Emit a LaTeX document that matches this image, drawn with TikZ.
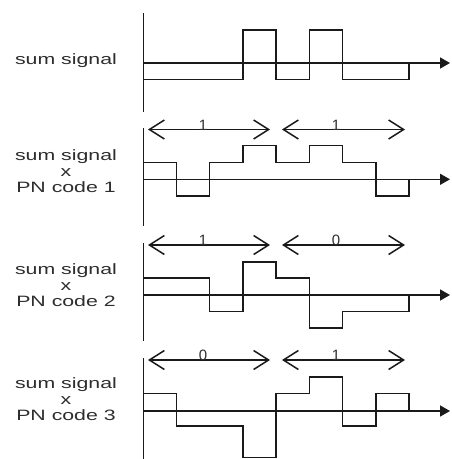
\documentclass[tikz,border=0pt]{standalone}
\usepackage{fontspec}
\setmainfont{Liberation Sans}[FakeStretch=1.42]
\newfontfamily\digitfont{Liberation Sans}
\usetikzlibrary{arrows.meta}
\definecolor{ink}{HTML}{1A1A1A}
\definecolor{txt}{HTML}{2E2E2E}
\tikzset{
  axisline/.style={draw=ink, line width=1.4pt},
  haxis/.style={draw=ink, line width=1.4pt, -{Triangle[length=10pt,width=11pt]}},
  sig/.style={draw=ink, line width=1.5pt, line join=miter},
  codearrow/.style={draw=ink, line width=1.3pt, {Straight Barb[length=15pt,width=19pt,line width=1.5pt]}-{Straight Barb[length=15pt,width=19pt,line width=1.5pt]}},
  rowlabel/.style={text=txt, align=center, font=\fontsize{15}{16}\selectfont, inner sep=0pt},
  bitlabel/.style={text=txt, font=\digitfont\fontsize{15}{15}\selectfont, anchor=south, inner sep=0pt, yshift=-1pt}
}
\begin{document}
\begin{tikzpicture}[x=1pt,y=-1pt]
\useasboundingbox[fill=white] (0,0) rectangle (451,459);

% ---------- labels ----------
\node[rowlabel] (l1) at (66,61) {sum signal};
\node[rowlabel] (l2) at (66,171) {sum signal\\x\\PN code 1};
\node[rowlabel] (l3) at (66,285) {sum signal\\x\\PN code 2};
\node[rowlabel] (l4) at (66,399) {sum signal\\x\\PN code 3};

% ---------- panel 1 ----------
\coordinate (v1t) at (143.5,13); \coordinate (v1b) at (143.5,112);
\coordinate (h1s) at (143,63); \coordinate (h1e) at (450,63);
\draw[axisline] (v1t) -- (v1b);
\draw[haxis] (h1s) -- (h1e);
\draw[sig] (143.5,79.5) -- (242.75,79.5) -- (242.75,30) -- (276,30) -- (276,79.5)
  -- (309.25,79.5) -- (309.25,30) -- (342.5,30) -- (342.5,79.5) -- (409,79.5) -- (409,63);

% ---------- panel 2 ----------
\coordinate (v2t) at (143.5,128); \coordinate (v2b) at (143.5,226);
\coordinate (h2s) at (143,179.3); \coordinate (h2e) at (450,179.3);
\draw[axisline] (v2t) -- (v2b);
\draw[haxis] (h2s) -- (h2e);
\coordinate (a2a) at (148,129.5); \coordinate (a2b) at (270,129.5);
\coordinate (a2c) at (282,129.5); \coordinate (a2d) at (405,129.5);
\draw[codearrow] (a2a) -- (a2b);
\draw[codearrow] (a2c) -- (a2d);
\node[bitlabel] (b2a) at (203,129.5) {1};
\node[bitlabel] (b2b) at (336,129.5) {1};
\draw[sig] (143.5,162.7) -- (176.25,162.7) -- (176.25,196) -- (209.5,196) -- (209.5,162.7)
  -- (242.75,162.7) -- (242.75,145.5) -- (276,145.5) -- (276,162.7) -- (309.25,162.7)
  -- (309.25,145.5) -- (342.5,145.5) -- (342.5,162.7) -- (375.75,162.7) -- (375.75,196)
  -- (409,196) -- (409,179.3);

% ---------- panel 3 ----------
\coordinate (v3t) at (143.5,243); \coordinate (v3b) at (143.5,341);
\coordinate (h3s) at (143,295); \coordinate (h3e) at (450,295);
\draw[axisline] (v3t) -- (v3b);
\draw[haxis] (h3s) -- (h3e);
\coordinate (a3a) at (148,245); \coordinate (a3b) at (270,245);
\coordinate (a3c) at (282,245); \coordinate (a3d) at (405,245);
\draw[codearrow] (a3a) -- (a3b);
\draw[codearrow] (a3c) -- (a3d);
\node[bitlabel] (b3a) at (203,245) {1};
\node[bitlabel] (b3b) at (336,245) {0};
\draw[sig] (143.5,278) -- (209.5,278) -- (209.5,311.5) -- (242.75,311.5) -- (242.75,262)
  -- (276,262) -- (276,278) -- (309.25,278) -- (309.25,328) -- (342.5,328)
  -- (342.5,311.5) -- (409,311.5) -- (409,295);

% ---------- panel 4 ----------
\coordinate (v4t) at (143.5,358); \coordinate (v4b) at (143.5,459);
\coordinate (h4s) at (143,411); \coordinate (h4e) at (450,411);
\draw[axisline] (v4t) -- (v4b);
\draw[haxis] (h4s) -- (h4e);
\coordinate (a4a) at (148,360); \coordinate (a4b) at (270,360);
\coordinate (a4c) at (282,360); \coordinate (a4d) at (405,360);
\draw[codearrow] (a4a) -- (a4b);
\draw[codearrow] (a4c) -- (a4d);
\node[bitlabel] (b4a) at (203,360) {0};
\node[bitlabel] (b4b) at (336,360) {1};
\draw[sig] (143.5,393.5) -- (176.25,393.5) -- (176.25,426) -- (242.75,426) -- (242.75,457.5)
  -- (276,457.5) -- (276,393.5) -- (309.25,393.5) -- (309.25,377) -- (342.5,377)
  -- (342.5,426) -- (375.75,426) -- (375.75,393.5) -- (409,393.5) -- (409,411);
\end{tikzpicture}
\end{document}
